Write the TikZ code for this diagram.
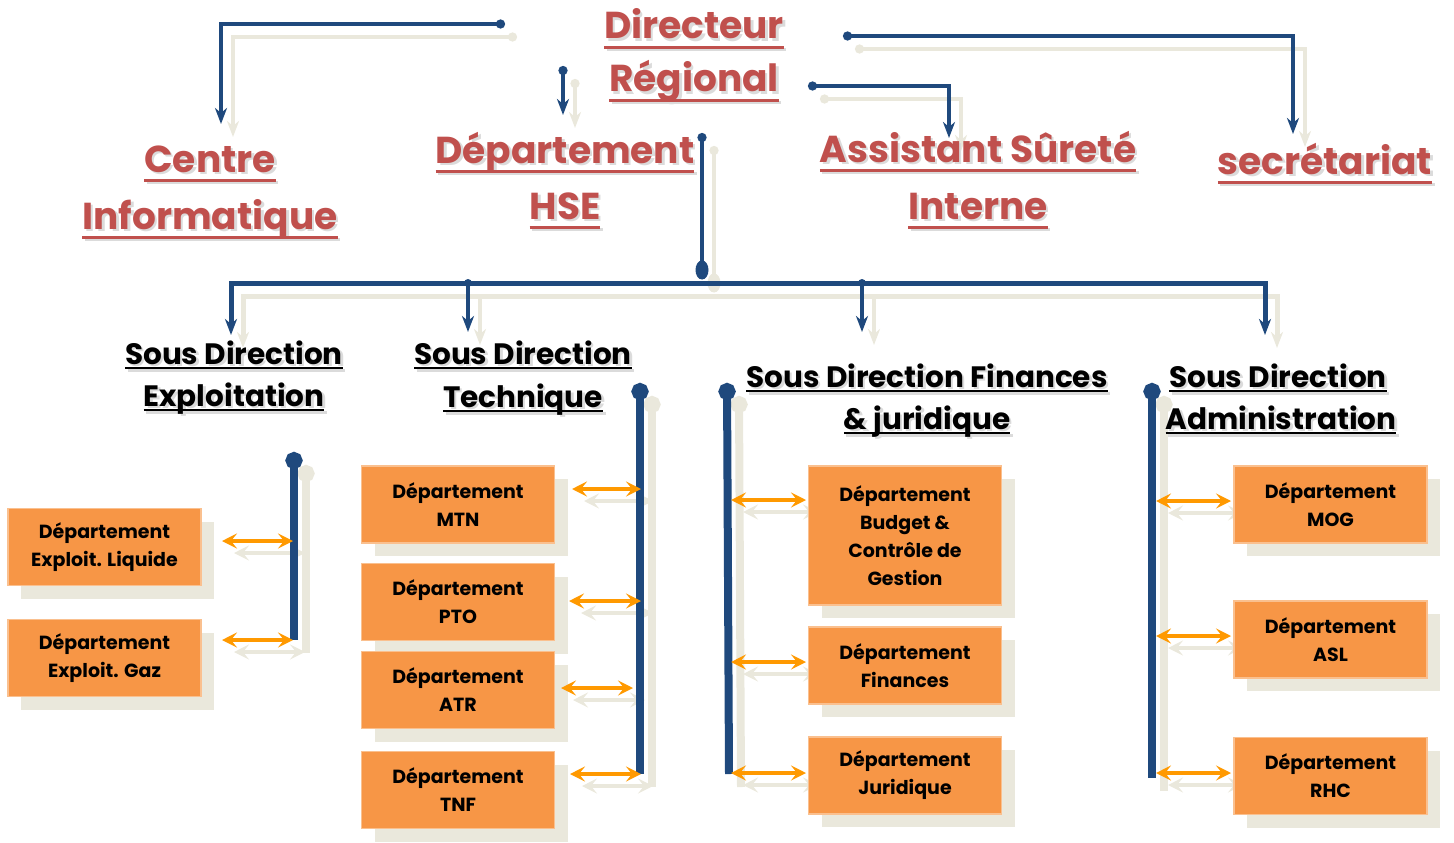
\documentclass[tikz,border=0pt]{standalone}
\usepackage{fontspec}
\setmainfont{Poppins}
\usetikzlibrary{arrows.meta,shadows}
\definecolor{dblue}{HTML}{1F497D}
\definecolor{beig}{HTML}{EAE8DC}
\definecolor{obox}{HTML}{F79646}
\definecolor{oline}{HTML}{FAC08F}
\definecolor{oarr}{HTML}{FF9900}
\definecolor{rtxt}{HTML}{C0504D}
\newcommand\ulx[3]{\setbox0=\hbox{#3}\rlap{\rule[-#1]{\wd0}{#2}}\box0}
\newcommand\ulr[1]{\ulx{0.26em}{0.08em}{#1}}
\newcommand\ulb[1]{\ulx{0.17em}{0.07em}{#1}}
\newcommand\stxt[5]{%
  \node[#1,text=black!14] at ({#2+2.5},{#3+2.5}) {#5};
  \node[#1] (#4) at (#2,#3) {#5};}
\newcommand\sh[1]{([shift={(12,13)}]#1)}
\newcommand\sha[1]{([shift={(12,12)}]#1)}
\tikzset{
  redt/.style={anchor=base,inner sep=0pt,text=rtxt,font=\fontsize{37.5}{37.5}\selectfont\bfseries},
  blkt/.style={anchor=base,inner sep=0pt,text=black,font=\fontsize{29.5}{29.5}\selectfont\bfseries},
  dept/.style={draw=oline,line width=1.5pt,fill=obox,minimum width=193pt,align=center,
     font=\fontsize{19}{28}\selectfont\bfseries,text=black,
     drop shadow={shadow xshift=13pt,shadow yshift=-13pt,fill=beig,opacity=1}},
  bl/.style={draw=dblue,line width=4pt,line join=miter},
  blsh/.style={draw=beig,line width=4pt},
  dotar/.style={{Circle[length=9pt]}-{Stealth[length=16pt,width=12pt,inset=5pt]}},
  ar/.style={-{Stealth[length=16pt,width=12pt,inset=5pt]}},
  dar/.style={{Stealth[length=16pt,width=12pt,inset=5pt]}-{Stealth[length=16pt,width=12pt,inset=5pt]}},
  bar/.style={line width=8pt,{Circle[length=17pt]}-},
  oa/.style={line width=3.5pt,{Stealth[length=15pt,width=15pt,inset=6pt]}-{Stealth[length=15pt,width=15pt,inset=6pt]}},
}
\begin{document}
\begin{tikzpicture}[x=1pt,y=-1pt]
\useasboundingbox (0,0) rectangle (1454,843);
% ---------- coordinates ----------
\coordinate (c1s) at (505,24); \coordinate (c1m) at (221,24); \coordinate (c1e) at (221,124);
\coordinate (c2s) at (563,66); \coordinate (c2e) at (563,115);
\coordinate (c3s) at (843,36); \coordinate (c3m) at (1293,36); \coordinate (c3e) at (1293,134);
\coordinate (c4s) at (808,86); \coordinate (c4m) at (949,86); \coordinate (c4e) at (949,138);
\coordinate (hs) at (702,133); \coordinate (he) at (702,270);
\coordinate (hl) at (231,283); \coordinate (hr) at (1265,283);
\coordinate (hle) at (231,335); \coordinate (hre) at (1265,335);
\coordinate (j2) at (468,283); \coordinate (j2e) at (468,332);
\coordinate (j3) at (862,283); \coordinate (j3e) at (862,332);
% bars
\coordinate (b1s) at (294,452); \coordinate (b1e) at (294,640);
\coordinate (b2s) at (640,383); \coordinate (b2e) at (640,774);
\coordinate (b3s) at (727,383); \coordinate (b3e) at (729,774);
\coordinate (b4s) at (1152,383); \coordinate (b4e) at (1152,778);
% orange arrow ends
\coordinate (o1a) at (222,541); \coordinate (o1b) at (293,541);
\coordinate (o2a) at (222,640); \coordinate (o2b) at (293,640);
\coordinate (o3a) at (572,489); \coordinate (o3b) at (641,489);
\coordinate (o4a) at (569,601); \coordinate (o4b) at (641,601);
\coordinate (o5a) at (561,688); \coordinate (o5b) at (633,688);
\coordinate (o6a) at (570,774); \coordinate (o6b) at (641,774);
\coordinate (o7a) at (731,500); \coordinate (o7b) at (806,500);
\coordinate (o8a) at (731,662); \coordinate (o8b) at (806,662);
\coordinate (o9a) at (731,773); \coordinate (o9b) at (806,773);
\coordinate (o10a) at (1156,501); \coordinate (o10b) at (1231,501);
\coordinate (o11a) at (1156,636); \coordinate (o11b) at (1231,636);
\coordinate (o12a) at (1156,773); \coordinate (o12b) at (1231,773);
% ---------- shadows of connectors ----------
\begin{scope}[draw=beig,color=beig]
\draw[blsh,dotar] \sh{c1s} -- \sh{c1m} -- \sh{c1e};
\draw[blsh,dotar] \sh{c2s} -- \sh{c2e};
\draw[blsh,dotar] \sh{c3s} -- \sh{c3m} -- \sh{c3e};
\draw[blsh,dotar] \sh{c4s} -- \sh{c4m} -- \sh{c4e};
\draw[blsh,{Circle[length=9pt]}-] \sh{hs} -- \sh{he};
\fill[beig] \sh{he} ellipse [x radius=6.5, y radius=9.5];
\draw[blsh,line width=5pt,dar] \sh{hle} -- \sh{hl} -- \sh{hr} -- \sh{hre};
\draw[blsh,ar] \sh{j2} -- \sh{j2e};
\draw[blsh,ar] \sh{j3} -- \sh{j3e};
\draw[beig,bar] \sh{b1s} -- \sh{b1e};
\draw[beig,bar] \sh{b2s} -- \sh{b2e};
\draw[beig,bar] \sh{b3s} -- \sh{b3e};
\draw[beig,bar] \sh{b4s} -- \sh{b4e};
\foreach \i in {1,...,12}{\draw[beig,oa] \sha{o\i a} -- \sha{o\i b};}
\end{scope}
% ---------- boxes ----------
\node[dept,minimum height=77pt] (liq) at (104.5,547) {Département\\Exploit. Liquide};
\node[dept,minimum height=77pt] (gaz) at (104.5,658) {Département\\Exploit. Gaz};
\node[dept,minimum height=77pt] (mtn) at (458,504.5) {Département\\MTN};
\node[dept,minimum height=77pt] (pto) at (458,602) {Département\\PTO};
\node[dept,minimum height=77pt] (atr) at (458,690) {Département\\ATR};
\node[dept,minimum height=77pt] (tnf) at (458,790) {Département\\TNF};
\node[dept,minimum height=139pt] (bud) at (905,535.5) {Département\\Budget \&\\Contrôle de\\Gestion};
\node[dept,minimum height=77pt] (fin) at (905,665.5) {Département\\Finances};
\node[dept,minimum height=77pt] (jur) at (905,775.5) {Département\\Juridique};
\node[dept,minimum height=77pt] (mog) at (1330.5,504.5) {Département\\MOG};
\node[dept,minimum height=77pt] (asl) at (1330.5,639.5) {Département\\ASL};
\node[dept,minimum height=77pt] (rhc) at (1330.5,776) {Département\\RHC};
% ---------- blue connectors ----------
\draw[bl,dotar,color=dblue] (c1s) -- (c1m) -- (c1e);
\draw[bl,dotar,color=dblue] (c2s) -- (c2e);
\draw[bl,dotar,color=dblue] (c3s) -- (c3m) -- (c3e);
\draw[bl,dotar,color=dblue] (c4s) -- (c4m) -- (c4e);
\draw[bl,{Circle[length=9pt]}-,color=dblue] (hs) -- (he);
\fill[dblue] (he) ellipse [x radius=6.5, y radius=9.5];
\draw[bl,line width=5pt,dar,color=dblue] (hle) -- (hl) -- (hr) -- (hre);
\draw[bl,ar,color=dblue] (j2) -- (j2e);
\draw[bl,ar,color=dblue] (j3) -- (j3e);
\fill[dblue] (j2) circle (4); \fill[dblue] (j3) circle (4);
\draw[dblue,bar] (b1s) -- (b1e);
\draw[dblue,bar] (b2s) -- (b2e);
\draw[dblue,bar] (b3s) -- (b3e);
\draw[dblue,bar] (b4s) -- (b4e);
% ---------- orange arrows ----------
\foreach \i in {1,...,12}{\draw[oarr,oa] (o\i a) -- (o\i b);}
% ---------- titles ----------
\stxt{redt}{694}{39}{dir1}{\ulr{Directeur}}
\stxt{redt}{694}{92}{dir2}{\ulr{Régional}}
\stxt{redt}{210}{172}{ci1}{\ulr{Centre}}
\stxt{redt}{210}{229}{ci2}{\ulr{Informatique}}
\stxt{redt}{565}{163}{hse1}{\ulr{Département}}
\stxt{redt}{565}{219}{hse2}{\ulr{HSE}}
\stxt{redt}{978}{162}{as1}{\ulr{Assistant Sûreté}}
\stxt{redt}{978}{219}{as2}{\ulr{Interne}}
\stxt{redt}{1325}{174}{sec}{\ulr{secrétariat}}
\stxt{blkt}{234}{364}{se1}{\ulb{Sous Direction}}
\stxt{blkt}{234}{406}{se2}{\ulb{Exploitation}}
\stxt{blkt}{523}{364}{st1}{\ulb{Sous Direction}}
\stxt{blkt}{523}{407}{st2}{\ulb{Technique}}
\stxt{blkt}{927}{387}{sf1}{\ulb{Sous Direction Finances}}
\stxt{blkt}{927}{429}{sf2}{\ulb{\& juridique}}
\stxt{blkt}{1278}{387}{sa1}{\ulb{Sous Direction}}
\stxt{blkt}{1281}{429}{sa2}{\ulb{Administration}}
\end{tikzpicture}
\end{document}
